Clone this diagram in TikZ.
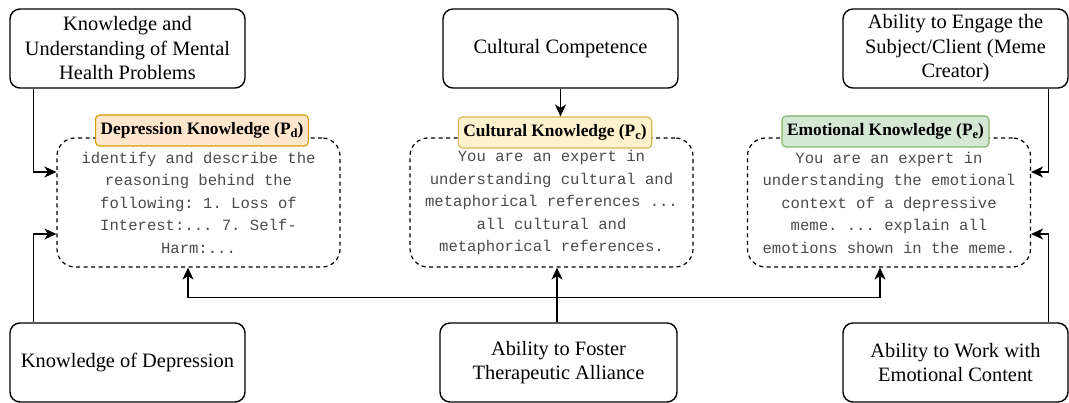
\documentclass[tikz,border=0pt]{standalone}
\usepackage{fontspec}
\setmainfont{Liberation Serif}
\setmonofont{Liberation Mono}
\usetikzlibrary{arrows.meta,calc}
\definecolor{orfill}{HTML}{FFE6CC}\definecolor{ordraw}{HTML}{D79B00}
\definecolor{yefill}{HTML}{FFF2CC}\definecolor{yedraw}{HTML}{D6B656}
\definecolor{grfill}{HTML}{D5E8D4}\definecolor{grdraw}{HTML}{82B366}
\definecolor{prompt}{HTML}{4A4A4A}
% subscript of a knowledge tag
\newcommand{\tagsub}[1]{\raisebox{-0.4ex}{\fontsize{12.5}{12.5}\selectfont #1}}
\begin{document}
\begin{tikzpicture}[x=1pt,y=-1pt,
  skill/.style={draw,line width=1.4pt,rounded corners=10pt,align=center,
    inner sep=2pt,font=\fontsize{20.4}{24.5}\selectfont},
  promptbox/.style={draw,line width=1.2pt,dash pattern=on 4pt off 3.5pt,
    rounded corners=18pt,minimum width=283pt,minimum height=129pt,align=center,
    text=prompt,font=\ttfamily\fontsize{15.6}{22.5}\selectfont},
  tag/.style={draw,line width=1.1pt,rounded corners=4pt,minimum height=31pt,
    inner xsep=5pt,font=\bfseries\fontsize{17.4}{19}\selectfont},
  arr/.style={line width=1.3pt,-{Stealth[length=12pt,width=11pt,inset=3.5pt]}},
  link/.style={line width=1.3pt}]
\useasboundingbox (0,0) rectangle (1069,403);

% competence boxes
\node[skill,minimum width=235pt,minimum height=79pt] (tl) at (127.5,48.5)
  {Knowledge and\\Understanding of Mental\\Health Problems};
\node[skill,minimum width=235pt,minimum height=79pt] (tc) at (560.5,48.5)
  {Cultural Competence};
\node[skill,minimum width=225pt,minimum height=79pt] (tr) at (955.5,48.5)
  {Ability to Engage the\\Subject/Client (Meme\\Creator)};
\node[skill,minimum width=235pt,minimum height=79pt] (bl) at (127.5,362.5)
  {Knowledge of Depression};
\node[skill,minimum width=237pt,minimum height=79pt] (bc) at (558.5,362.5)
  {Ability to Foster\\Therapeutic Alliance};
\node[skill,minimum width=225pt,minimum height=79pt] (br) at (955.5,362.5)
  {Ability to Work with\\Emotional Content};

% prompt boxes
\node[promptbox] (dl) at (198.5,202.5)
  {identify and describe the\\reasoning behind the\\following: 1. Loss of\\Interest:... 7. Self-\\Harm:...};
\node[promptbox] (dc) at (551.5,202.5)
  {You are an expert in\\understanding cultural and\\metaphorical references ...\\all cultural and\\metaphorical references.};
\node[promptbox] (dr) at (889,202.5)
  {You are an expert in\\understanding the emotional\\context of a depressive\\meme. ... explain all\\emotions shown in the meme.};

% knowledge tags
\node[tag,fill=orfill,draw=ordraw] (kd) at (202,130.5) {Depression Knowledge (P\tagsub{d})};
\node[tag,fill=yefill,draw=yedraw] (kc) at (555,132.5) {Cultural Knowledge (P\tagsub{c})};
\node[tag,fill=grfill,draw=grdraw] (ke) at (885.5,131.5) {Emotional Knowledge (P\tagsub{e})};

% connectors
\draw[arr] ([xshift=24pt]tl.south west) |- ([yshift=30.5pt]dl.west);
\draw[arr] ([xshift=24pt]bl.north west) |- ([yshift=-31.5pt]dl.west);
\draw[arr] (tc.south) -- (tc.south |- kc.north);
\draw[arr] ([xshift=-20pt]tr.south east) |- ([yshift=30.5pt]dr.east);
\draw[arr] ([xshift=-20pt]br.north east) |- ([yshift=-31.5pt]dr.east);
\draw[arr] ([xshift=-1.5pt]bc.north) -- ([xshift=-1.5pt]bc.north |- dc.south);
\coordinate (hub) at ($(bc.north)+(-1.5,-25)$);
\draw[link] ([xshift=-1.5pt]bc.north) -- (hub);
\draw[arr] (hub) -| ([xshift=-10.5pt]dl.south);
\draw[arr] (hub) -| ([xshift=-9pt]dr.south);
\end{tikzpicture}
\end{document}
